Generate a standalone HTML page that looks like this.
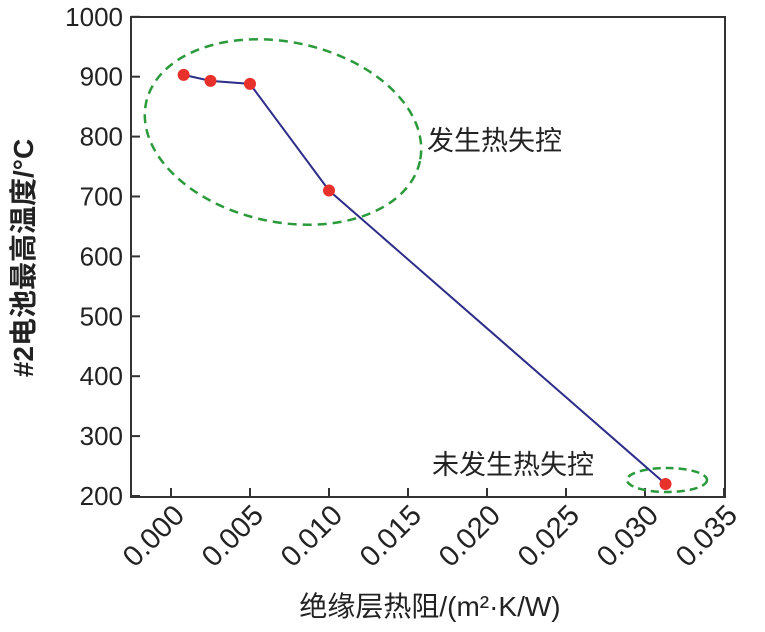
<!DOCTYPE html>
<html><head><meta charset="utf-8"><style>
body{margin:0;background:#fff;}
svg text{font-family:"Liberation Sans","Noto Sans CJK SC",sans-serif;fill:#222;}
</style></head><body>
<svg id="chart" width="765" height="627" viewBox="0 0 765 627">
<g id="axes"></g>
<ellipse cx="283" cy="132" rx="140" ry="90" transform="rotate(12 283 132)" fill="none" stroke="#2a9a3a" stroke-width="2.5" stroke-dasharray="9 6"/>
<ellipse cx="667" cy="480" rx="40" ry="12" fill="none" stroke="#2a9a3a" stroke-width="2.5" stroke-dasharray="8 5"/>
<g id="marks"></g>
<text x="427" y="150" font-size="27">发生热失控</text>
<text x="432" y="474" font-size="27">未发生热失控</text>
<text transform="translate(33,258) rotate(-90)" text-anchor="middle" font-size="28" font-weight="bold">#2电池最高温度/°C</text>
<text x="430" y="616" text-anchor="middle" font-size="28">绝缘层热阻/(m²·K/W)</text>
</svg>
<script>
const xTicks=[0.000,0.005,0.010,0.015,0.020,0.025,0.030,0.035];
const xTickLabels=["0.000","0.005","0.010","0.015","0.020","0.025","0.030","0.035"];
const yTicks=[200,300,400,500,600,700,800,900,1000];
const resistance=[0.0008,0.0025,0.0050,0.0100,0.0313];
const maxTemp=[903,893,888,710,220];
const L=131,R=725,T=17,B=497;
const x=v=>171+v*15800;
const y=v=>496-(v-200)*0.599;
const NS="http://www.w3.org/2000/svg";
function mk(tag,attrs,parent){const e=document.createElementNS(NS,tag);for(const k in attrs)e.setAttribute(k,attrs[k]);parent.appendChild(e);return e;}
const ax=document.getElementById('axes');
const frame=mk('rect',{x:L,y:T,width:R-L,height:B-T,fill:'none',stroke:'#333','stroke-width':2},ax);


yTicks.forEach(v=>{
  const t=mk('line',{x1:L,x2:L+9,y1:y(v),y2:y(v),stroke:'#333','stroke-width':2},ax);
  
  
  const l=mk('text',{x:L-8,y:y(v)+9,'text-anchor':'end','font-size':26},ax);
  l.textContent=v;
  
  
});
xTicks.forEach((v,i)=>{
  const t=mk('line',{x1:x(v),x2:x(v),y1:B,y2:B-9,stroke:'#333','stroke-width':2},ax);
  
  
  const l=mk('text',{transform:`translate(${x(v)+15},${B+20}) rotate(-45)`,'text-anchor':'end','font-size':29},ax);
  l.textContent=xTickLabels[i];
  
  
});
const mg=document.getElementById('marks');
const pl=mk('polyline',{points:resistance.map((r,i)=>x(r)+','+y(maxTemp[i])).join(' '),fill:'none',stroke:'#2e2e8a','stroke-width':2},mg);


resistance.forEach((r,i)=>{
  const c=mk('circle',{cx:x(r),cy:y(maxTemp[i]),r:6,fill:'#e8312a'},mg);
  
  
});
</script>
</body></html>
